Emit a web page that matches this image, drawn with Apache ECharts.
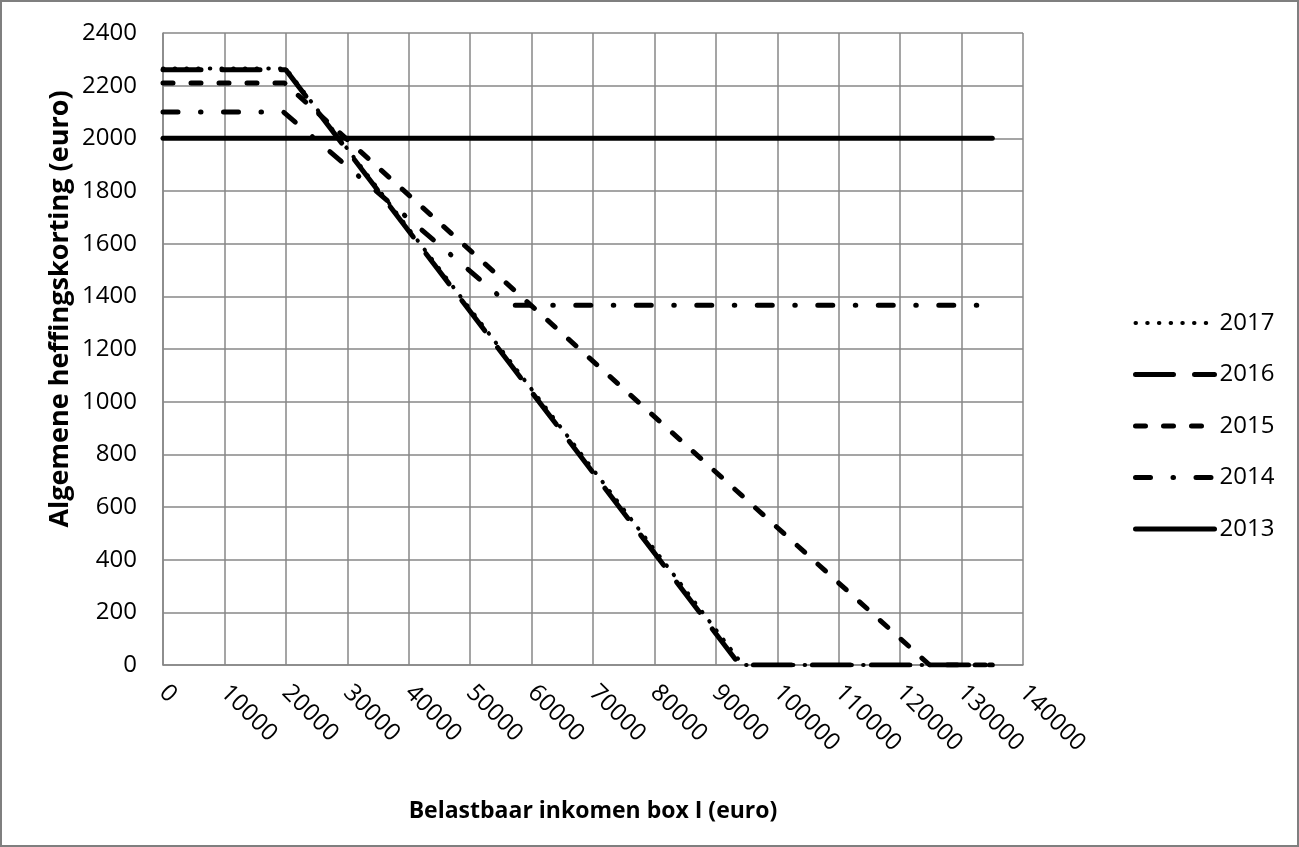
<!DOCTYPE html>
<html>
<head>
<meta charset="utf-8">
<script src="https://cdn.jsdelivr.net/npm/echarts@6/dist/echarts.min.js"></script>
<style>
html,body{margin:0;padding:0;background:#fff;}
#chart{width:1299px;height:847px;}
</style>
</head>
<body>
<div id="chart"></div>
<script>
// Data: [income (euro), credit (euro)]
const years = ['2013', '2014', '2015', '2016', '2017'];
const s2013 = [[0, 2000], [135000, 2000]];
const s2014 = [[0, 2100], [19600, 2100], [56500, 1366], [135000, 1366]];
const s2015 = [[0, 2210], [19800, 2210], [124800, 0], [135000, 0]];
const s2016 = [[0, 2260], [20000, 2260], [93900, 0], [135000, 0]];
const s2017 = [[0, 2265], [20000, 2265], [94400, 0], [135000, 0]];
const legendOrder = ['2017', '2016', '2015', '2014', '2013'];
const xTitle = 'Belastbaar inkomen box I (euro)';
const yTitle = 'Algemene heffingskorting (euro)';

const FONT = 'Open Sans';
const chart = echarts.init(document.getElementById('chart'), null, {renderer: 'canvas'});

const styles = {
  '2013': {width: 5, type: 'solid'},
  '2014': {width: 5, type: [15, 22.5, 0.5, 22.5]},
  '2015': {width: 5, type: [10, 18]},
  '2016': {width: 5, type: [38, 21]},
  '2017': {width: 4, type: [0.5, 11.2]}
};

function mk(name, data) {
  const st = styles[name];
  return {
    name: name, type: 'line', data: data, symbol: 'none', showSymbol: false,
    animation: false,
    itemStyle: {color: '#000'},
    lineStyle: {color: '#000', width: st.width, type: st.type, cap: 'round'}
  };
}

chart.setOption({
  backgroundColor: '#fff',
  animation: false,
  graphic: [
    {type: 'rect', shape: {x: 1, y: 1, width: 1297, height: 845},
     style: {fill: 'none', stroke: '#7f7f7f', lineWidth: 2}, silent: true},
    {type: 'text', x: 60, y: 309, rotation: Math.PI / 2,
     style: {text: yTitle, font: 'bold 27px "' + FONT + '"', fill: '#000',
             align: 'center', verticalAlign: 'middle'}}
  ],
  grid: {left: 163, top: 33, right: 276, bottom: 182, containLabel: false},
  legend: {
    orient: 'vertical', left: 1128, top: 305,
    data: legendOrder.map(function (n) {
      return {name: n, lineStyle: {width: styles[n].width, type: styles[n].type, cap: 'round', color: '#000'}};
    }),
    itemWidth: 79, itemHeight: 26, itemGap: 25.5,
    itemStyle: {color: 'rgba(0,0,0,0)', borderWidth: 0, opacity: 0},
    textStyle: {fontFamily: FONT, fontSize: 24, color: '#000', lineHeight: 26}
  },
  xAxis: {
    type: 'value', min: 0, max: 140000, interval: 10000,
    name: xTitle, nameLocation: 'middle', nameGap: 135,
    nameTextStyle: {fontFamily: FONT, fontSize: 23, fontWeight: 'bold', color: '#000'},
    axisLine: {show: true, lineStyle: {color: '#878787', width: 1.5}},
    axisTick: {show: false},
    splitLine: {show: true, lineStyle: {color: '#878787', width: 1.5}},
    axisLabel: {rotate: -45, margin: 24, fontFamily: FONT, fontSize: 24, color: '#000',
                formatter: function (v) { return String(v); }}
  },
  yAxis: {
    type: 'value', min: 0, max: 2400, interval: 200,
    axisLine: {show: true, lineStyle: {color: '#878787', width: 1.5}},
    axisTick: {show: false},
    splitLine: {show: true, lineStyle: {color: '#878787', width: 1.5}},
    axisLabel: {margin: 26, fontFamily: FONT, fontSize: 24, color: '#000',
                formatter: function (v) { return String(v); }}
  },
  series: [
    mk('2013', s2013),
    mk('2014', s2014),
    mk('2015', s2015),
    mk('2016', s2016),
    mk('2017', s2017)
  ]
});
</script>
</body>
</html>
